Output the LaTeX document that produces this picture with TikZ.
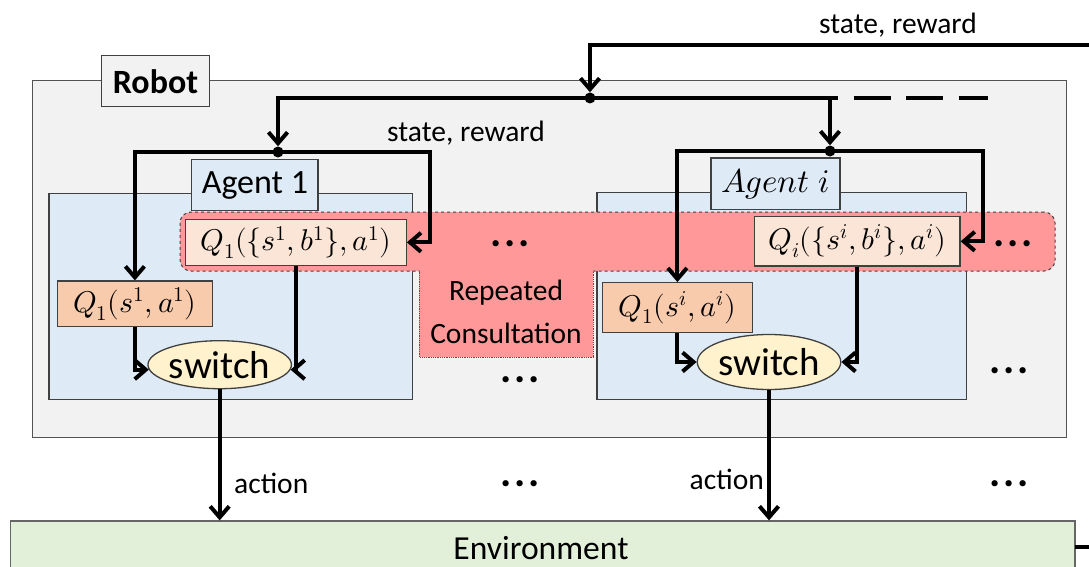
\documentclass[tikz,border=0pt]{standalone}
\usepackage{fontspec}
\usepackage{unicode-math}
\setmainfont{Carlito}
\setmathfont{Latin Modern Math}
\usetikzlibrary{arrows.meta,shapes.geometric,calc}
\definecolor{robotbg}{HTML}{F2F2F2}
\definecolor{agentbg}{HTML}{DEEBF7}
\definecolor{qbig}{HTML}{FBE5D6}
\definecolor{qsmall}{HTML}{F8CBAD}
\definecolor{switchbg}{HTML}{FFF2CC}
\definecolor{pinkbg}{HTML}{FF9999}
\definecolor{envbg}{HTML}{E2F0D9}
\definecolor{edge}{HTML}{404040}
\definecolor{pinkedge}{HTML}{7F4040}
\begin{document}
\begin{tikzpicture}[x=1pt,y=-1pt,
  boxnode/.style={draw=edge, line width=1.3pt, inner sep=0pt, anchor=center},
  mathtxt/.style={font=\fontsize{30}{34}\selectfont},
  lbl/.style={font=\fontsize{29.5}{34}\selectfont, inner sep=0pt},
  dotsnode/.style={font=\fontsize{42}{42}\selectfont\bfseries, inner sep=0pt, anchor=base},
  wire/.style={line width=4pt, line join=miter},
  conn/.style={wire, -{Straight Barb[length=11pt,width=19pt]}},
  dot/.style={circle, fill=black, inner sep=0pt, minimum size=11pt}]
\useasboundingbox (0,0) rectangle (1089,567);
\clip (0,0) rectangle (1089,567);
\fill[white] (0,0) rectangle (1089,567);

% Robot
\node[boxnode, fill=robotbg, draw=edge!90, minimum width=1034pt, minimum height=357pt] (robot) at (549.6,259.2) {};
\node[boxnode, fill=robotbg, minimum width=107.7pt, minimum height=51pt, font=\fontsize{34}{38}\selectfont\bfseries] (robotlbl) at (155.5,81.2) {Robot};

% Agent frames
\node[boxnode, fill=agentbg, minimum width=363.5pt, minimum height=206pt] (ag1) at (230.75,296.3) {};
\node[boxnode, fill=agentbg, minimum width=369.6pt, minimum height=207pt] (agi) at (781.8,295.8) {};

% Repeated consultation region
\fill[pinkbg] (419.3,266) rectangle (593.3,357);
\draw[pinkedge, line width=0.8pt, densely dotted] (419.3,268) -- (419.3,357) -- (593.3,357) -- (593.3,268);
\node[draw=edge, dashed, line width=1pt, fill=pinkbg, rounded corners=11pt, minimum width=875pt, minimum height=59pt, inner sep=0pt] (band) at (617.5,241.5) {};
\fill[pinkbg] (420,268) rectangle (592.6,275);
\node[lbl, anchor=base] (rep1) at (506,300) {Repeated};
\node[lbl, anchor=base] (rep2) at (506,343) {Consultation};

% Agent labels
\node[boxnode, fill=agentbg, minimum width=126.3pt, minimum height=51.4pt, font=\fontsize{34}{38}\selectfont] (ag1lbl) at (254.9,185) {Agent 1};
\node[boxnode, fill=agentbg, minimum width=129pt, minimum height=51.3pt, font=\fontsize{33}{36}\selectfont] (agilbl) at (775.5,183.7) {$Agent\;i$};

% Q boxes
\node[boxnode, fill=qbig, minimum width=220.5pt, minimum height=46pt, mathtxt] (q1b) at (296,242.3) {$Q_1(\{s^1,b^1\},a^1)$};
\node[boxnode, fill=qbig, minimum width=205.4pt, minimum height=49.3pt, mathtxt] (qib) at (857.3,241.3) {$Q_i(\{s^i,b^i\},a^i)$};
\node[boxnode, fill=qsmall, minimum width=155pt, minimum height=45.7pt, mathtxt] (q1a) at (134.9,303.9) {$Q_1(s^1,a^1)$};
\node[boxnode, fill=qsmall, minimum width=150.2pt, minimum height=49.6pt, mathtxt] (q1ai) at (677.4,307.5) {$Q_1(s^i,a^i)$};

% switches
\node[ellipse, draw=edge, line width=1.3pt, fill=switchbg, inner sep=0pt, minimum width=123pt, minimum height=48pt, font=\fontsize{39}{42}\selectfont] (sw1) at (219.7,364.7) {switch};
\node[ellipse, draw=edge, line width=1.3pt, fill=switchbg, inner sep=0pt, minimum width=122pt, minimum height=55pt, font=\fontsize{39}{42}\selectfont] (swi) at (769,362) {switch};

% Environment
\node[boxnode, fill=envbg, draw=edge!80, minimum width=1064.6pt, minimum height=79pt] (env) at (542.7,560.5) {};
\node[anchor=base, inner sep=0pt, font=\fontsize{33.6}{36}\selectfont] (envlbl) at (541,559) {Environment};

% dots
\node[dotsnode] (dt1) at (510,246) {.\hspace{3pt}.\hspace{3pt}.};
\node[dotsnode] (dt2) at (1013,246) {.\hspace{3pt}.\hspace{3pt}.};
\node[dotsnode] (dt3) at (520,382) {.\hspace{3pt}.\hspace{3pt}.};
\node[dotsnode] (dt4) at (1009,373) {.\hspace{3pt}.\hspace{3pt}.};
\node[dotsnode] (dt5) at (520,486) {.\hspace{3pt}.\hspace{3pt}.};
\node[dotsnode] (dt6) at (1009,486) {.\hspace{3pt}.\hspace{3pt}.};

% junction dots and coordinates
\node[dot] (d0) at (590,98) {};
\node[dot] (d1) at (278,152) {};
\node[dot] (di) at (830,151) {};
\coordinate (topR) at (1089,45);
\coordinate (envout) at (1075,547);
\coordinate (botR) at (1089,547);
\coordinate (busend) at (838,98);
\coordinate (busdash) at (988,98);
\coordinate (busdrop) at (830,98);
\coordinate (c1r) at (429.5,152);
\coordinate (cir) at (983,151);

% top-level wires
\draw[conn] (topR) -| (d0.north);
\draw[conn] (d0.center) -| (d1.north);
\draw[wire] (d0.center) -- (busend);
\draw[wire, dash pattern=on 37pt off 15.5pt, dash phase=37pt] (busend) -- (busdash);
\draw[conn] (busdrop) -- (di.north);
\draw[wire] (envout) -- (botR);

% agent 1 wires
\draw[conn] (d1.center) -| (q1a.north);
\draw[conn] (d1.center) -- (c1r) |- (q1b.east);
\draw[conn] (q1a.south) |- (sw1.184);
\draw[conn] (q1b.south) |- (sw1.-4);
\draw[conn] (sw1.south) -- (sw1.south |- env.north);

% agent i wires
\draw[conn] (di.center) -| (q1ai.north);
\draw[conn] (di.center) -- (cir) |- (qib.east);
\draw[conn] (q1ai.south) |- (swi.west);
\draw[conn] (qib.south) |- (swi.east);
\draw[conn] (swi.south) -- (swi.south |- env.north);

% labels
\node[lbl, anchor=base] (sr1) at (898,34) {state, reward};
\node[lbl, anchor=base] (sr2) at (466,141.5) {state, reward};
\node[lbl, anchor=base west] (act1) at (234,493) {action};
\node[lbl, anchor=base east] (acti) at (764,489) {action};
\end{tikzpicture}
\end{document}
